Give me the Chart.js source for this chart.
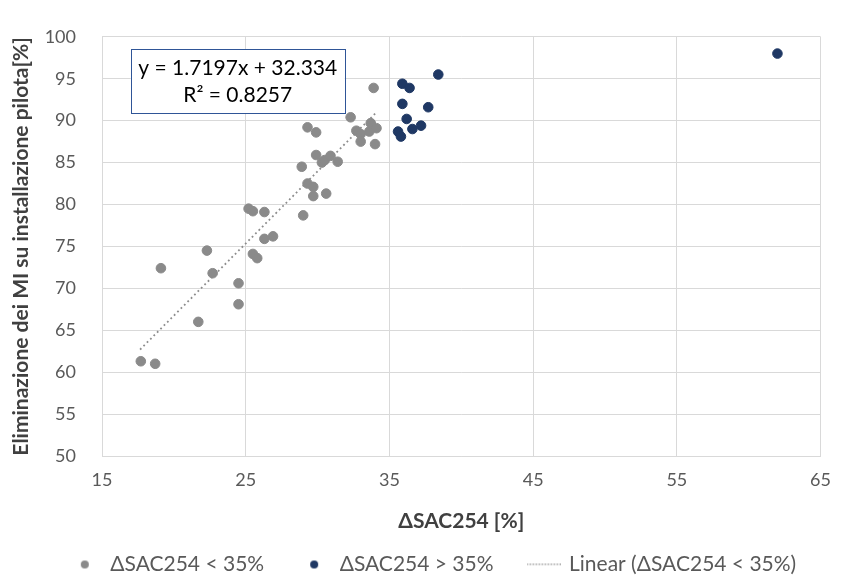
<!DOCTYPE html>
<html>
<head>
<meta charset="utf-8">
<script src="https://cdn.jsdelivr.net/npm/chart.js@4.4.1/dist/chart.umd.min.js"></script>
<style>
html,body{margin:0;padding:0;background:#fff;}
#wrap{width:844px;height:585px;}
</style>
</head>
<body>
<div id="wrap"><canvas id="chart" width="844" height="585"></canvas></div>
<script>
// ΔSAC254 < 35%
const grayX=[17.7,18.7,21.7,22.7,19.1,22.3,24.5,24.5,25.5,25.8,25.2,25.5,26.3,26.3,26.9,29.0,29.3,29.7,29.7,30.6,28.9,29.9,30.3,30.5,30.9,31.4,29.3,29.9,32.3,32.7,33.0,33.6,33.7,34.1,33.0,34.0,33.9];
const grayY=[61.3,61.0,66.0,71.8,72.4,74.5,70.6,68.1,74.1,73.6,79.5,79.2,79.1,75.9,76.2,78.7,82.5,82.1,81.0,81.3,84.5,85.9,85.0,85.3,85.8,85.1,89.2,88.6,90.4,88.8,88.4,88.7,89.7,89.1,87.5,87.2,93.9];
// ΔSAC254 > 35%
const navyX=[38.4,35.9,36.4,35.9,37.7,36.2,35.6,35.8,36.6,37.2,62.0];
const navyY=[95.5,94.4,93.9,92.0,91.6,90.2,88.7,88.1,89.0,89.4,98.0];
// linear trend (endpoints)
const trendX=[17.65,34.1];
const trendY=[62.7,91.0];
const trendText=["y = 1.7197x + 32.334","R² = 0.8257"];

const xTicks=[15,25,35,45,55,65];
const yTicks=[50,55,60,65,70,75,80,85,90,95,100];

const seriesNames=["ΔSAC254 < 35%","ΔSAC254 > 35%","Linear (ΔSAC254 < 35%)"];
const GRAY="#8a8a8a", NAVY="#1f3864";
const FONT="Lato";

const toPts=(xs,ys)=>xs.map((x,i)=>({x:x,y:ys[i]}));

function dotIcon(color){
    const c=document.createElement("canvas");
    c.width=10;c.height=10;
    const g=c.getContext("2d");
    g.fillStyle=color;
    g.beginPath();g.arc(5,5,4,0,Math.PI*2);g.fill();
    return c;
}
function lineIcon(){
    const c=document.createElement("canvas");
    c.width=34;c.height=4;
    const g=c.getContext("2d");
    g.fillStyle="#9a9a9a";
    for(let x=0;x<34;x+=3) g.fillRect(x,1,1.5,1.5);
    return c;
}
const icons=[dotIcon(GRAY),dotIcon(NAVY),lineIcon()];

const eqBox={
    id:"eqBox",
    afterDraw(chart){
        const {ctx,scales}=chart;
        const left=scales.x.getPixelForValue(17);
        const top=scales.y.getPixelForValue(98.5);
        const w=214,h=64;
        ctx.save();
        ctx.fillStyle="#fff";
        ctx.fillRect(left,top,w,h);
        ctx.strokeStyle="#2f5597";
        ctx.lineWidth=1;
        ctx.strokeRect(Math.round(left)+0.5,Math.round(top)+0.5,w,h);
        ctx.fillStyle="#000";
        ctx.font="21px "+FONT;
        ctx.textAlign="center";
        ctx.textBaseline="middle";
        ctx.fillText(trendText[0],left+w/2,top+19);
        ctx.fillText(trendText[1],left+w/2,top+46);
        ctx.restore();
    }
};

const ctx=document.getElementById("chart").getContext("2d");
new Chart(ctx,{
    type:"scatter",
    data:{
        datasets:[
            {label:seriesNames[0],data:toPts(grayX,grayY),backgroundColor:GRAY,borderColor:GRAY,pointRadius:4.8,pointHoverRadius:4.8},
            {label:seriesNames[1],data:toPts(navyX,navyY),backgroundColor:NAVY,borderColor:NAVY,pointRadius:4.8,pointHoverRadius:4.8},
            {label:seriesNames[2],type:"line",data:toPts(trendX,trendY),borderColor:"#8c8c8c",borderWidth:1.8,borderDash:[1.8,3],pointRadius:0,fill:false}
        ]
    },
    options:{
        responsive:false,
        animation:false,
        layout:{padding:{top:24,right:12,left:34,bottom:0}},
        plugins:{
            tooltip:{enabled:false},
            legend:{
                position:"bottom",
                labels:{
                    usePointStyle:true,
                    pointStyleWidth:30,
                    padding:35,
                    color:"#595959",
                    font:{family:FONT,size:21},
                    sort:(a,b)=>a.datasetIndex-b.datasetIndex,
                    generateLabels(chart){
                        const items=Chart.defaults.plugins.legend.labels.generateLabels(chart);
                        items.forEach(it=>{it.pointStyle=icons[it.datasetIndex];});
                        return items;
                    }
                }
            }
        },
        scales:{
            x:{
                type:"linear",min:15,max:65,
                afterBuildTicks(s){s.ticks=xTicks.map(v=>({value:v}));},
                afterFit(s){s.height=63;},
                grid:{color:"#d9d9d9",drawTicks:false},
                border:{color:"#d9d9d9"},
                ticks:{color:"#595959",padding:13,font:{family:FONT,size:18}},
                title:{display:true,text:"ΔSAC254 [%]",color:"#404040",font:{family:FONT,size:21,weight:"bold"},padding:{top:0,bottom:-15}}
            },
            y:{
                type:"linear",min:50,max:100,
                afterBuildTicks(s){s.ticks=yTicks.map(v=>({value:v}));},
                afterFit(s){s.width=68;},
                grid:{color:"#d9d9d9",drawTicks:false},
                border:{color:"#d9d9d9"},
                ticks:{color:"#595959",padding:26,font:{family:FONT,size:18}},
                title:{display:true,text:"Eliminazione dei MI su installazione pilota[%]",color:"#404040",font:{family:FONT,size:21,weight:"bold"},padding:{top:-25,bottom:0}}
            }
        }
    },
    plugins:[eqBox]
});
</script>
</body>
</html>
